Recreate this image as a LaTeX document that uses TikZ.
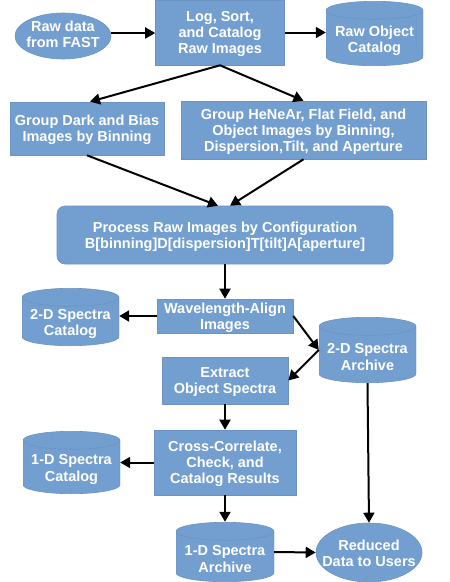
\documentclass[tikz,border=0pt]{standalone}
\usepackage{fontspec}
\setmainfont{Liberation Sans}
\usetikzlibrary{shapes.geometric,arrows.meta}
\definecolor{boxfill}{HTML}{729FCF}
\definecolor{boxline}{HTML}{6A93C4}
\tikzset{
  txt/.style={text=white, font=\fontsize{14.5}{16.2}\selectfont\bfseries, align=center},
  base/.style={txt, fill=boxfill, draw=boxline, line width=0.6pt, inner sep=0pt},
  procbox/.style 2 args={base, rectangle, text depth=0pt, minimum width=#1, minimum height=#2},
  roundbox/.style 2 args={base, rectangle, text depth=0pt, rounded corners=8pt, minimum width=#1, minimum height=#2},
  ovalnode/.style 2 args={base, ellipse, minimum width=#1, minimum height=#2},
  inlabel/.style={txt, inner sep=0pt},
  cyltext/.style={txt, inner sep=0pt, yshift=-7pt},
  cyl/.style 2 args={rectangle, minimum width=#1, minimum height=#2, inner sep=0pt, fill=white,
    path picture={
      \path[fill=boxfill, draw=boxline, line width=0.6pt]
        ([yshift=-9.3pt]path picture bounding box.north west)
        arc[start angle=180, end angle=0, x radius={#1/2}, y radius=9pt]
        -- ([yshift=9.3pt]path picture bounding box.south east)
        arc[start angle=0, end angle=-180, x radius={#1/2}, y radius=9pt]
        -- cycle;
      \draw[boxline, line width=0.6pt]
        ([yshift=-9.3pt]path picture bounding box.north west)
        arc[start angle=180, end angle=360, x radius={#1/2}, y radius=9pt];
    }},
  flow/.style={line width=2pt, -{Triangle[length=10pt,width=11pt]}}
}
\begin{document}
\begin{tikzpicture}[x=1pt,y=-1pt]
\useasboundingbox (0,0) rectangle (450,582);
\node[ovalnode={96pt}{46pt}, label={[inlabel, yshift=2pt]center:{Raw data\\from FAST}}] (raw) at (63,36) {};
\node[procbox={129pt}{65pt}] (log) at (220,32.5) {Log, Sort,\\and Catalog\\Raw Images};
\node[cyl={97pt}{65pt}, label={[cyltext]center:{Raw Object\\Catalog}}] (rawcat) at (374.5,33.5) {};
\node[procbox={154pt}{53pt}] (dark) at (87,128.5) {Group Dark and Bias\\Images by Binning};
\node[procbox={245pt}{58pt}] (hene) at (303.5,130) {Group HeNeAr, Flat Field, and\\Object Images by Binning,\\Dispersion,Tilt, and Aperture};
\node[roundbox={336pt}{58pt}] (proc) at (225,235) {Process Raw Images by Configuration\\B[binning]D[dispersion]T[tilt]A[aperture]};
\node[procbox={136pt}{34pt}] (wave) at (225,316) {Wavelength-Align\\Images};
\node[cyl={97pt}{58pt}, label={[cyltext]center:{2-D Spectra\\Catalog}}] (cat2) at (70.5,317) {};
\node[cyl={97pt}{66pt}, label={[cyltext]center:{2-D Spectra\\Archive}}] (arch2) at (367.5,350) {};
\node[procbox={126pt}{47pt}] (extr) at (225,380.5) {Extract\\Object Spectra};
\node[procbox={142pt}{65pt}] (cross) at (225,462.5) {Cross-Correlate,\\Check, and\\Catalog Results};
\node[cyl={97pt}{63pt}, label={[cyltext]center:{1-D Spectra\\Catalog}}] (cat1) at (71.5,462.5) {};
\node[cyl={98pt}{60pt}, label={[cyltext]center:{1-D Spectra\\Archive}}] (arch1) at (225,552) {};
\node[ovalnode={106pt}{59pt}, label={[inlabel, yshift=-1pt]center:{Reduced\\Data to Users}}] (red) at (369,552.5) {};

\draw[flow] ([yshift=3pt]raw.east) -- ([yshift=3pt]raw.east -| log.west);
\draw[flow] (log.east) -- (log.east -| rawcat.west);
\draw[flow] (log.south) -- ([xshift=3pt]dark.north);
\draw[flow] (log.south) -- (hene.north);
\draw[flow] (dark.south) -- ([xshift=-7pt]proc.north);
\draw[flow] (hene.south) -- ([xshift=5pt]proc.north);
\draw[flow] (proc.south) -- (wave.north);
\draw[flow] (wave.west) -- (wave.west -| cat2.east);
\draw[flow] (wave.east) -- (arch2.west);
\draw[flow] (arch2.west) -- (extr.east);
\draw[flow] (extr.south) -- (cross.north);
\draw[flow] (cross.west) -- (cross.west -| cat1.east);
\draw[flow] (cross.south) -- (arch1.north);
\draw[flow] (arch1.east) -- (red.west);
\draw[flow] (arch2.south) -- (red.north);
\end{tikzpicture}
\end{document}
